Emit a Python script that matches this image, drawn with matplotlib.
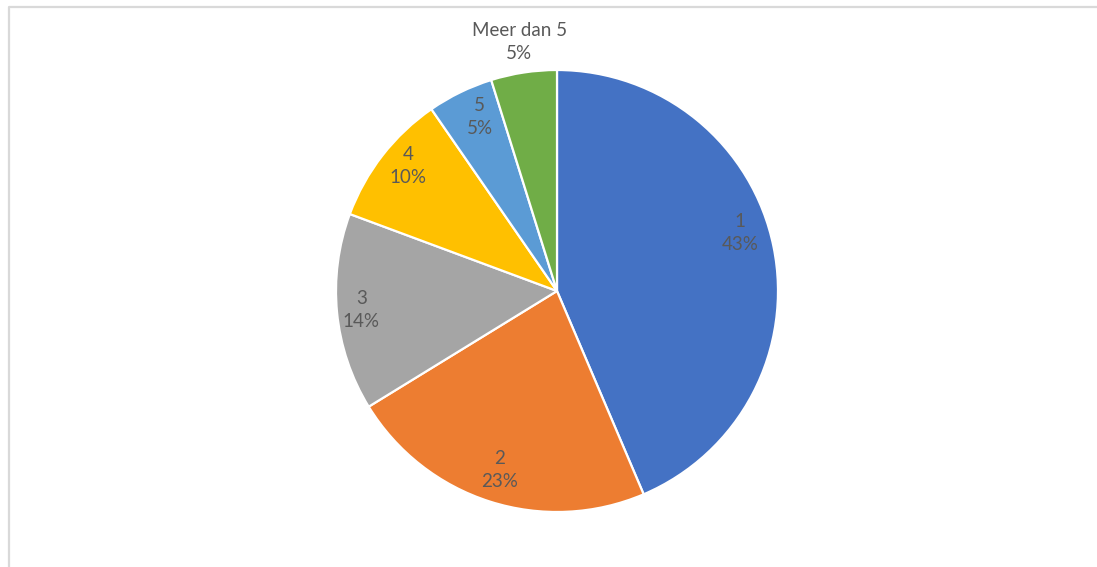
import numpy as np
import matplotlib.pyplot as plt
from matplotlib.lines import Line2D

categories = ['1', '2', '3', '4', '5', 'Meer dan 5']
values = [43.5, 22.6, 14.4, 9.7, 4.8, 4.8]
pct_labels = ['43%', '23%', '14%', '10%', '5%', '5%']
colors = ['#4472C4', '#ED7D31', '#A5A5A5', '#FFC000', '#5B9BD5', '#70AD47']

# label placement (distance from centre in radii, angle nudge in degrees)
label_dist = [0.87, 0.85, 0.89, 0.88, 0.86, 1.14]
label_nudge = [6, 0, 0, -2, -2, 0]

plt.rcParams['font.family'] = ['Lato', 'DejaVu Sans']

fig = plt.figure(figsize=(10.97, 5.67), dpi=100)
W, H = 1097, 567
cx, cy, r = 557, 291, 221
ax = fig.add_axes([(cx - r) / W, (H - cy - r) / H, 2 * r / W, 2 * r / H])

wedges, _ = ax.pie(values, colors=colors, startangle=90, counterclock=False,
                   radius=1, wedgeprops=dict(edgecolor='white', linewidth=1.6))
ax.set_xlim(-1, 1)
ax.set_ylim(-1, 1)
ax.set_aspect('equal')
ax.axis('off')

for w, cat, pct, d, n in zip(wedges, categories, pct_labels, label_dist, label_nudge):
    ang = np.deg2rad((w.theta1 + w.theta2) / 2 + n)
    ax.text(d * np.cos(ang), d * np.sin(ang), cat + '\n' + pct, ha='center', va='center',
            fontsize=13.5, color='#595959', linespacing=1.43, clip_on=False)

# chart area border (top and left edges visible)
fig.add_artist(Line2D([8.5 / W, 8.5 / W, 1.0], [0.0, 1 - 7 / H, 1 - 7 / H],
                      transform=fig.transFigure, color='#d9d9d9', linewidth=1.6))

fig.savefig('out.png', dpi=100, facecolor='white')
